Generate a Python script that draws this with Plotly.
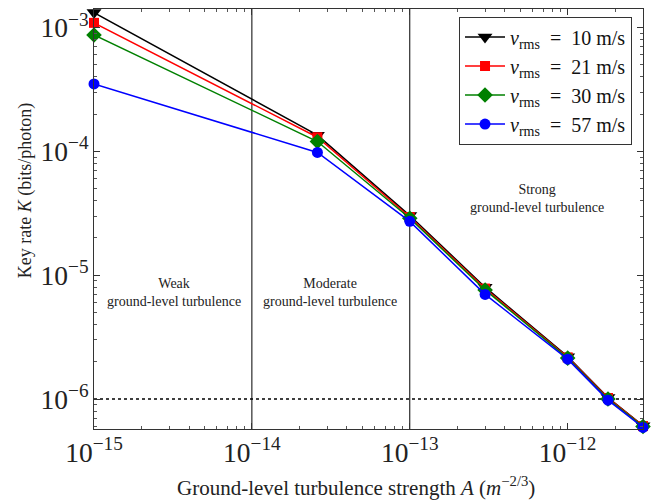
import math
import plotly.graph_objects as go

# Ground-level turbulence strength A (m^-2/3)
turbulence_A = [1e-15, 2.6e-14, 1e-13, 3e-13, 1e-12, 1.8e-12, 3e-12]

# Key rate K (bits/photon) for each rms wind speed
key_rate_10 = [1.32e-3, 1.35e-4, 3.03e-5, 8.0e-6, 2.2e-6, 1.03e-6, 6.1e-7]
key_rate_21 = [1.09e-3, 1.30e-4, 2.95e-5, 7.8e-6, 2.17e-6, 1.02e-6, 6.05e-7]
key_rate_30 = [8.7e-4, 1.20e-4, 2.88e-5, 7.6e-6, 2.14e-6, 1.0e-6, 6.0e-7]
key_rate_57 = [3.5e-4, 9.8e-5, 2.72e-5, 7.0e-6, 2.1e-6, 9.8e-7, 5.9e-7]

series = [
    ("10", key_rate_10, "black", "triangle-down", 13),
    ("21", key_rate_21, "#ff0000", "square", 10),
    ("30", key_rate_30, "#008000", "diamond", 12),
    ("57", key_rate_57, "#0000ff", "circle", 11),
]

FONT = "'Liberation Serif', 'DejaVu Serif', serif"
TEXT = "#222222"
NB = "&nbsp;"

fig = go.Figure()
for speed, vals, color, symbol, size in series:
    fig.add_trace(go.Scatter(
        x=turbulence_A, y=vals, mode="lines+markers",
        name=f"<i>v</i><sub>rms</sub>{NB}{NB}={NB}{NB}{speed}{NB}m/s",
        line=dict(color=color, width=1.5),
        marker=dict(color=color, symbol=symbol, size=size, line=dict(width=0)),
        cliponaxis=False,
    ))

# Regime boundaries and reference level
for xb in [1e-14, 1e-13]:
    fig.add_shape(type="line", xref="x", yref="paper", x0=xb, x1=xb, y0=0, y1=1,
                  line=dict(color="black", width=1), layer="below")
fig.add_shape(type="line", xref="paper", yref="y", x0=0, x1=1, y0=1e-6, y1=1e-6,
              line=dict(color="black", width=1.5, dash="dot"), layer="below")

regimes = [
    (3.2e-15, 7.2e-6, "Weak<br>ground-level turbulence"),
    (3.14e-14, 7.2e-6, "Moderate<br>ground-level turbulence"),
    (6.4e-13, 4.2e-5, "Strong<br>ground-level turbulence"),
]
for xa, ya, txt in regimes:
    fig.add_annotation(x=math.log10(xa), y=math.log10(ya),
                       text=txt, showarrow=False,
                       font=dict(family=FONT, size=14, color=TEXT))

# Axis titles
fig.add_annotation(
    text="Ground-level turbulence strength <i>A</i> (<i>m</i><sup>−2/3</sup>)",
    xref="paper", yref="paper", x=0.478, y=-0.138, xanchor="center", yanchor="middle",
    showarrow=False, font=dict(family=FONT, size=21, color=TEXT))
fig.add_annotation(
    text="Key rate <i>K</i> (bits/photon)", textangle=-90,
    xref="paper", yref="paper", x=-0.125, y=0.567, xanchor="center", yanchor="middle",
    showarrow=False, font=dict(family=FONT, size=18, color=TEXT))

axis_common = dict(
    type="log", showgrid=False, zeroline=False, showline=True, linecolor="#333333",
    linewidth=1, mirror="ticks", ticks="inside", ticklen=6, tickcolor="#333333",
    exponentformat="power", dtick=1,
    minor=dict(ticks="inside", ticklen=3, tickcolor="#555555", showgrid=False),
    tickfont=dict(family=FONT, size=22, color=TEXT),
)

fig.update_xaxes(**axis_common, range=[-15, math.log10(3e-12)])
fig.update_yaxes(**axis_common, range=[math.log10(5.73e-7), math.log10(1.41e-3)])

fig.update_layout(
    width=654, height=502,
    margin=dict(l=94, r=11, t=9, b=73),
    paper_bgcolor="white", plot_bgcolor="white",
    font=dict(family=FONT, color=TEXT),
    legend=dict(
        x=0.98, y=0.982, xanchor="right", yanchor="top",
        bgcolor="white", bordercolor="#333333", borderwidth=1,
        font=dict(family=FONT, size=20, color="#111111"),
        tracegroupgap=0, itemwidth=40,
    ),
)

fig.write_html("out.html")
